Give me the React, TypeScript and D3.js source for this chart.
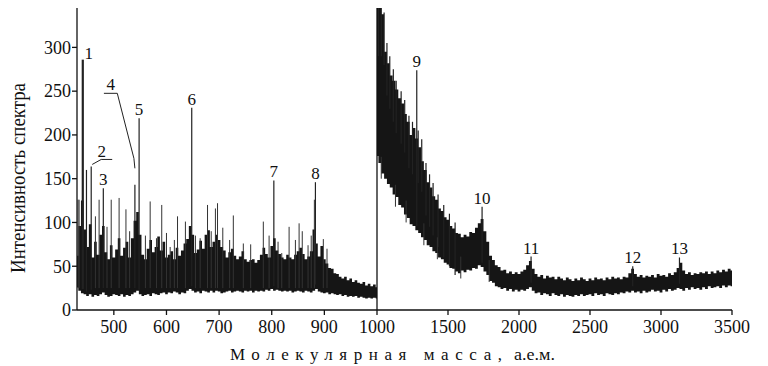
import React from 'react';
import * as d3 from 'd3';

const W = 768;
const H = 366;
const left = 77;
const split = 377;
const right = 732;
const top = 8;
const bottom = 310;

// [mass, upper edge, lower edge] of the dense noise band, 430..1000
const leftBand: [number, number, number][] = [
  [430, 62, 26], [435, 96, 22], [440, 125, 19], [445, 92, 18], [450, 72, 16], [455, 98, 18],
  [460, 60, 15], [465, 78, 17], [470, 63, 16], [475, 86, 18], [480, 96, 20], [485, 66, 17],
  [490, 58, 15], [495, 74, 16], [500, 60, 18], [505, 69, 17], [510, 82, 16], [515, 62, 18],
  [520, 71, 15], [525, 78, 17], [530, 60, 16], [535, 82, 18], [540, 102, 20], [545, 112, 22],
  [550, 86, 18], [555, 63, 16], [560, 58, 17], [565, 70, 18], [570, 80, 16], [575, 66, 19],
  [580, 72, 18], [585, 84, 17], [590, 68, 19], [595, 78, 20], [600, 60, 18], [605, 63, 20],
  [610, 67, 19], [615, 58, 21], [620, 71, 20], [625, 62, 18], [630, 68, 20], [635, 76, 19],
  [640, 81, 22], [645, 96, 24], [650, 86, 22], [655, 65, 20], [660, 69, 21], [665, 79, 19],
  [670, 70, 22], [675, 86, 21], [680, 91, 20], [685, 72, 22], [690, 78, 20], [695, 86, 22],
  [700, 80, 21], [705, 72, 19], [710, 68, 20], [715, 60, 21], [720, 66, 22], [725, 70, 20],
  [730, 62, 21], [735, 58, 22], [740, 61, 21], [745, 67, 20], [750, 58, 22], [755, 55, 21],
  [760, 57, 22], [765, 58, 20], [770, 54, 22], [775, 57, 21], [780, 63, 22], [785, 71, 21],
  [790, 64, 23], [795, 60, 22], [800, 73, 24], [805, 82, 22], [810, 68, 23], [815, 64, 22],
  [820, 60, 21], [825, 58, 22], [830, 63, 21], [835, 60, 22], [840, 58, 20], [845, 63, 21],
  [850, 67, 22], [855, 71, 21], [860, 64, 20], [865, 58, 22], [870, 61, 21], [875, 67, 20],
  [880, 92, 22], [885, 76, 24], [890, 61, 21], [895, 73, 20], [900, 58, 19], [905, 53, 20],
  [910, 48, 18], [915, 47, 19], [920, 42, 18], [925, 41, 17], [930, 38, 18], [935, 36, 16],
  [940, 38, 17], [945, 34, 15], [950, 36, 16], [955, 32, 15], [960, 34, 16], [965, 31, 14],
  [970, 30, 15], [975, 32, 14], [980, 28, 13], [985, 30, 14], [990, 27, 13], [995, 29, 14],
  [1000, 26, 13],
];

// same for 1000..3500
const rightBand: [number, number, number][] = [
  [1000, 350, 176], [1020, 345, 168], [1040, 338, 156], [1060, 295, 150], [1080, 282, 144],
  [1100, 268, 140], [1120, 262, 132], [1140, 252, 129], [1160, 242, 120], [1180, 236, 117],
  [1200, 224, 109], [1220, 215, 105], [1240, 200, 98], [1260, 208, 96], [1280, 196, 91],
  [1300, 186, 88], [1320, 170, 83], [1340, 160, 80], [1360, 146, 74], [1380, 140, 72],
  [1400, 130, 67], [1420, 126, 65], [1440, 116, 60], [1460, 113, 58], [1480, 106, 54],
  [1500, 103, 52], [1520, 96, 48], [1540, 93, 47], [1560, 88, 44], [1580, 87, 42],
  [1600, 83, 45], [1620, 86, 43], [1640, 84, 46], [1660, 89, 45], [1680, 88, 48],
  [1700, 94, 47], [1720, 99, 51], [1740, 104, 49], [1760, 90, 44], [1780, 78, 40],
  [1800, 62, 33], [1820, 57, 31], [1840, 51, 27], [1860, 49, 26], [1880, 45, 24],
  [1900, 46, 25], [1920, 42, 22], [1940, 44, 24], [1960, 41, 21], [1980, 43, 23],
  [2000, 41, 21], [2020, 44, 23], [2040, 46, 22], [2060, 51, 24], [2080, 56, 26],
  [2100, 47, 22], [2120, 41, 19], [2140, 38, 20], [2160, 40, 17], [2180, 36, 19],
  [2200, 39, 18], [2220, 37, 16], [2240, 38, 19], [2260, 35, 17], [2280, 38, 16],
  [2300, 36, 18], [2320, 34, 15], [2340, 37, 17], [2360, 35, 16], [2380, 33, 15],
  [2400, 36, 17], [2420, 34, 16], [2440, 37, 18], [2460, 35, 16], [2480, 33, 17],
  [2500, 36, 18], [2520, 34, 16], [2540, 37, 19], [2560, 35, 17], [2580, 36, 18],
  [2600, 34, 16], [2620, 37, 19], [2640, 35, 18], [2660, 38, 17], [2680, 36, 19],
  [2700, 37, 18], [2720, 35, 20], [2740, 38, 19], [2760, 37, 21], [2780, 42, 20],
  [2800, 47, 22], [2820, 41, 20], [2840, 38, 21], [2860, 40, 19], [2880, 37, 22],
  [2900, 39, 20], [2920, 38, 21], [2940, 40, 23], [2960, 37, 21], [2980, 41, 22],
  [3000, 39, 20], [3020, 40, 23], [3040, 38, 21], [3060, 42, 24], [3080, 40, 22],
  [3100, 43, 23], [3120, 48, 25], [3140, 54, 24], [3160, 45, 22], [3180, 41, 25],
  [3200, 43, 23], [3220, 40, 26], [3240, 42, 24], [3260, 41, 25], [3280, 43, 23],
  [3300, 42, 26], [3320, 44, 24], [3340, 41, 27], [3360, 44, 25], [3380, 42, 26],
  [3400, 45, 27], [3420, 43, 25], [3440, 46, 28], [3460, 44, 26], [3480, 47, 28],
  [3500, 45, 27],
];

// thin unlabelled lines [mass, height]
const leftSpikes: [number, number][] = [
  [432, 126], [434, 126], [465, 107], [472, 126], [487, 95], [495, 126], [510, 128],
  [523, 115], [530, 90], [560, 85], [569, 124], [581, 82], [591, 120], [600, 88],
  [607, 72], [615, 80], [621, 107], [636, 101], [655, 85], [664, 82], [678, 120],
  [685, 90], [693, 116], [697, 122], [707, 94], [720, 80], [727, 108], [746, 76],
  [760, 75], [784, 101], [795, 85], [812, 78], [819, 65], [833, 95], [845, 80],
  [852, 99], [858, 90], [869, 74], [875, 85], [881, 126], [898, 81], [905, 70],
];

const rightTeeth: [number, number][] = [
  [1010, 350], [1030, 350], [1050, 340], [1070, 305], [1090, 290], [1115, 275],
  [1135, 262], [1170, 250], [1195, 240], [1225, 222], [1250, 215], [1290, 205],
  [1315, 195], [1345, 168], [1370, 155], [1395, 145], [1430, 132], [1470, 120],
  [1510, 110], [1550, 100],
];

// short lines dropping below the band [mass, bottom]
const rightDips: [number, number][] = [
  [1030, 150], [1130, 118], [1205, 100], [1330, 74], [1425, 58], [1590, 36], [1790, 32],
];

// [label, mass, height]
const peaks: [string, number, number][] = [
  ['1', 441, 286], ['', 448, 160], ['2', 457, 164], ['3', 480, 139], ['4', 540, 143],
  ['5', 548, 219], ['6', 648, 231], ['7', 804, 148], ['8', 883, 146], ['9', 1280, 274],
  ['10', 1740, 118], ['11', 2085, 61], ['12', 2801, 50], ['13', 3130, 60],
];

const yTicks = [0, 50, 100, 150, 200, 250, 300];
const xTicksLeft = [500, 600, 700, 800, 900, 1000];
const xTicksRight = [1500, 2000, 2500, 3000, 3500];

const xL = d3.scaleLinear().domain([430, 1000]).range([left, split]);
const xR = d3.scaleLinear().domain([1000, 3500]).range([split, right]);
const x = (m: number) => (m <= 1000 ? xL(m) : xR(m));
const y = d3.scaleLinear().domain([0, 345]).range([bottom, top]);

const band = d3
  .area<[number, number, number]>()
  .curve(d3.curveStep)
  .x(d => x(d[0]))
  .y0(d => y(d[2]))
  .y1(d => y(d[1]));

// lower edge of the band near a mass, so peak lines start inside the band
const baseAt = (m: number) => {
  const rows = m <= 1000 ? leftBand : rightBand;
  const i = d3.leastIndex(rows, r => Math.abs(r[0] - m)) ?? 0;
  return rows[i][2] + 5;
};

const serif = 'Liberation Serif';

export default function App() {
  return (
    <svg width={W} height={H} style={{ position: 'absolute', left: 0, top: 0, background: '#fff' }}>
      <defs>
        <clipPath id="plot">
          <rect x={left} y={top} width={right - left + 2} height={bottom - top} />
        </clipPath>
      </defs>

      <g clipPath="url(#plot)">
        <path d={band(leftBand) || ''} fill="#151515" />
        <path d={band(rightBand) || ''} fill="#151515" />
        {leftSpikes.map(([m, h], i) => (
          <line key={'s' + i} x1={x(m)} x2={x(m)} y1={y(25)} y2={y(h)} stroke="#333" strokeWidth={1} />
        ))}
        {rightTeeth.map(([m, h], i) => (
          <line key={'t' + i} x1={x(m)} x2={x(m)} y1={y(h - 60)} y2={y(h)} stroke="#222" strokeWidth={1.2} />
        ))}
        {rightDips.map(([m, b], i) => (
          <line key={'d' + i} x1={x(m)} x2={x(m)} y1={y(b)} y2={y(b + 25)} stroke="#333" strokeWidth={1} />
        ))}
        {peaks.map(([name, m, h], i) => (
          <line
            key={'p' + i}
            x1={x(m)}
            x2={x(m)}
            y1={y(baseAt(m))}
            y2={y(h)}
            stroke="#222"
            strokeWidth={name === '1' ? 2.2 : 1.2}
          />
        ))}
      </g>

      {/* leader lines for 2 and 4 */}
      {(() => {
        const p2x = x(457);
        const p2y = y(164);
        const p4x = x(540);
        const p4y = y(143);
        return (
          <g fill="none" stroke="#222" strokeWidth={1}>
            <polyline points={`${p2x + 1},${p2y - 2} ${p2x + 10},${p2y - 7} ${p2x + 21},${p2y - 7}`} />
            <polyline
              points={`${p4x},${p4y - 16.5} ${p4x - 1},${p4y - 26.5} ${p4x - 17.6},${p4y - 91.5} ${p4x - 31},${p4y - 91.5}`}
            />
          </g>
        );
      })()}

      {peaks
        .filter(p => p[0] !== '')
        .map(([name, m, h]) => {
          let tx = x(m);
          let ty = y(h) - 3;
          if (name === '1') {
            tx = x(m) + 6;
            ty = y(h) - 1;
          } else if (name === '2') {
            tx = x(m) + 10.5;
            ty = y(h) - 9.5;
          } else if (name === '4') {
            tx = x(m) - 24.2;
            ty = y(h) - 94.8;
          }
          return (
            <text key={'l' + name} x={tx} y={ty} textAnchor="middle" fontFamily={serif} fontSize={17} fill="#111">
              {name}
            </text>
          );
        })}

      {/* axes */}
      <g stroke="#111" strokeWidth={1.3}>
        <line x1={left} x2={left} y1={top} y2={bottom} />
        <line x1={left} x2={right} y1={bottom} y2={bottom} />
        <line x1={split} x2={split} y1={top} y2={bottom} />
        {yTicks.map(t => (
          <line key={'yt' + t} x1={left - 5} x2={left} y1={y(t)} y2={y(t)} />
        ))}
        {[...xTicksLeft, ...xTicksRight].map(t => (
          <line key={'xt' + t} x1={x(t)} x2={x(t)} y1={bottom} y2={bottom + 5} />
        ))}
      </g>

      {yTicks.map(t => (
        <text key={'yl' + t} x={left - 6} y={y(t)} dy="0.35em" textAnchor="end" fontFamily={serif} fontSize={18} fill="#111">
          {t}
        </text>
      ))}
      {[...xTicksLeft, ...xTicksRight].map(t => (
        <text key={'xl' + t} x={x(t)} y={333} textAnchor="middle" fontFamily={serif} fontSize={18} fill="#111">
          {t}
        </text>
      ))}

      <text
        transform="translate(25,178) rotate(-90)"
        textAnchor="middle"
        fontFamily={serif}
        fontSize={20}
        fill="#111"
        textLength={190}
        lengthAdjust="spacingAndGlyphs"
      >
        Интенсивность спектра
      </text>
      <text x={230} y={360} fontFamily={serif} fontSize={17} fill="#111" textLength={272} lengthAdjust="spacing">
        Молекулярная масса,
      </text>
      <text x={514} y={360} fontFamily={serif} fontSize={17} fill="#111" textLength={41} lengthAdjust="spacingAndGlyphs">
        а.е.м.
      </text>
    </svg>
  );
}
